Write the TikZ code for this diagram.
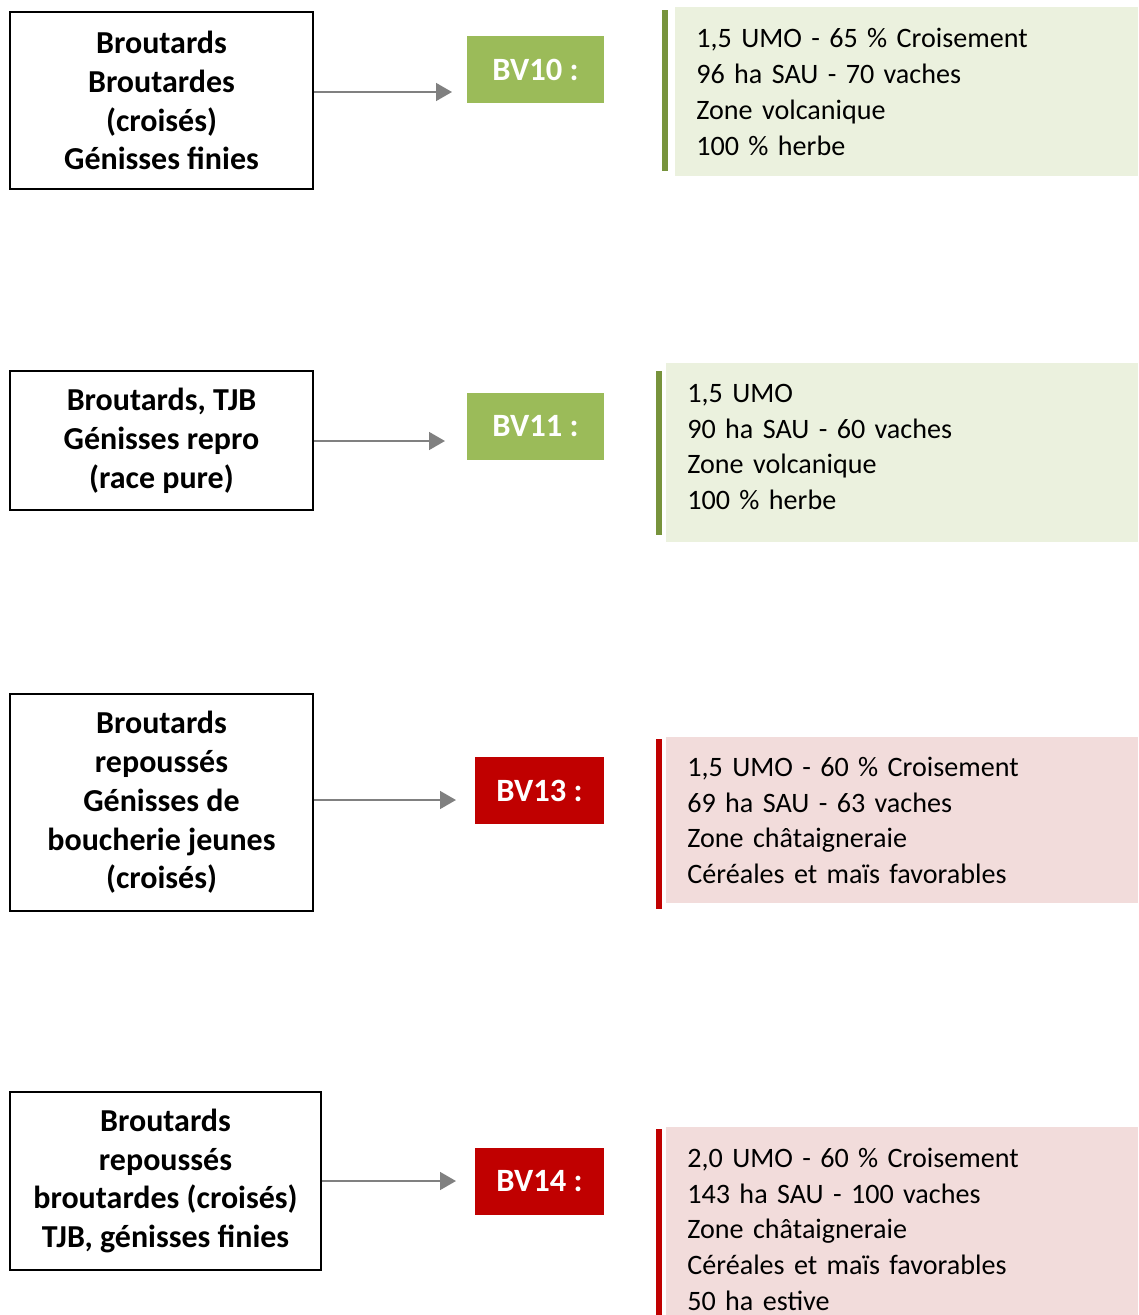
\documentclass[tikz,border=0pt]{standalone}
\usepackage{fontspec}
\setmainfont{Carlito}
\usetikzlibrary{arrows.meta}
\definecolor{bvgreen}{HTML}{9BBB59}
\definecolor{bargreen}{HTML}{77933C}
\definecolor{infogreen}{HTML}{EBF1DE}
\definecolor{bvred}{HTML}{C00000}
\definecolor{infored}{HTML}{F2DCDB}
\definecolor{arrowgray}{HTML}{808080}
\begin{document}
\begin{tikzpicture}[x=0.2mm,y=-0.2mm,
    animals/.style={draw=black,line width=1.1pt,align=center,inner sep=0pt,
      font=\bfseries\fontsize{18.2}{22.1}\selectfont},
    bv/.style={text=white,inner sep=0pt,minimum height=13.4mm,
      font=\bfseries\fontsize{18.5}{20}\selectfont},
    info/.style={anchor=north west,align=left,inner xsep=4.2mm,inner ysep=0pt,
      font=\fontsize{16}{20.4}\selectfont},
    flow/.style={draw=arrowgray,line width=1.3pt,-{Triangle[length=9pt,width=10pt]}}]
      \clip (0,0) rectangle (1138,1315);

      \node (boxA) [animals,minimum width=60.6mm,minimum height=35.4mm] at (161.5,100.5)
        {Broutards\\Broutardes\\(croisés)\\Génisses finies};
      \node (bv10) [bv,fill=bvgreen,minimum width=27.4mm] at (535.5,69.5) {BV10 :};
      \coordinate (tipA) at (452,92);
      \draw[flow] (boxA.east |- tipA) -- (tipA);
      \fill[bargreen] (662,10) rectangle (668,171);
      \node (info10) [info,fill=infogreen,text width=84.2mm,minimum height=33.8mm] at (675,7)
        {1,5 UMO - 65 \% Croisement\\96 ha SAU - 70 vaches\\Zone volcanique\\100 \% herbe};

      \node (boxB) [animals,minimum width=60.6mm,minimum height=27.8mm] at (161.5,440.5)
        {Broutards, TJB\\Génisses repro\\(race pure)};
      \node (bv11) [bv,fill=bvgreen,minimum width=27.4mm] at (535.5,426.5) {BV11 :};
      \coordinate (tipB) at (445,441);
      \draw[flow] (boxB.east |- tipB) -- (tipB);
      \fill[bargreen] (656,371) rectangle (662,535);
      \node (info11) [info,fill=infogreen,text width=86mm,minimum height=35.8mm] at (666,363)
        {1,5 UMO\\90 ha SAU - 60 vaches\\Zone volcanique\\100 \% herbe\rule[-2.4mm]{0pt}{2.4mm}};

      \node (boxC) [animals,minimum width=60.6mm,minimum height=43.4mm] at (161.5,802.5)
        {Broutards\\repoussés\\Génisses de\\boucherie jeunes\\(croisés)};
      \node (bv13) [bv,fill=bvred,minimum width=25.8mm] at (539.5,790.5) {BV13 :};
      \coordinate (tipC) at (456,800);
      \draw[flow] (boxC.east |- tipC) -- (tipC);
      \fill[bvred] (656,739) rectangle (662,909);
      \node (info13) [info,fill=infored,text width=86mm,minimum height=33.2mm] at (666,737)
        {1,5 UMO - 60 \% Croisement\\69 ha SAU - 63 vaches\\Zone châtaigneraie\\Céréales et maïs favorables};

      \node (boxD) [animals,minimum width=62.2mm,minimum height=35.6mm] at (165.5,1181)
        {Broutards\\repoussés\\broutardes (croisés)\\TJB, génisses finies};
      \node (bv14) [bv,fill=bvred,minimum width=25.8mm] at (539.5,1181.5) {BV14 :};
      \coordinate (tipD) at (456,1181);
      \draw[flow] (boxD.east |- tipD) -- (tipD);
      \fill[bvred] (656,1129) rectangle (662,1315);
      \node (info14) [info,fill=infored,text width=86mm,minimum height=40.8mm] at (666,1127)
        {2,0 UMO - 60 \% Croisement\\143 ha SAU - 100 vaches\\Zone châtaigneraie\\Céréales et maïs favorables\\50 ha estive};

    \end{tikzpicture}
\end{document}
